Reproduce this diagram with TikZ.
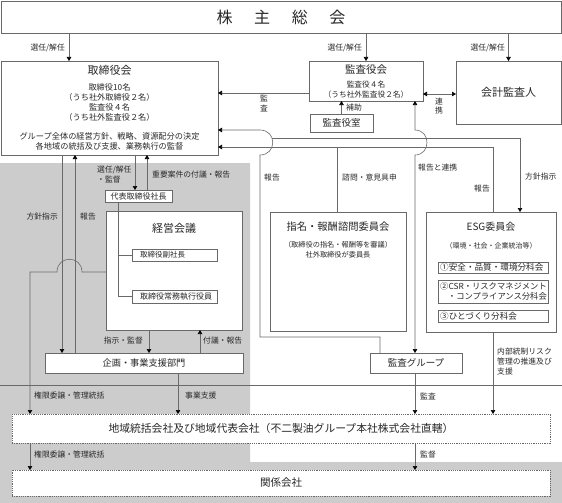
\documentclass[tikz,border=0pt]{standalone}
\usepackage{fontspec}
\setmainfont{Noto Sans CJK JP}
\usetikzlibrary{arrows.meta}
\definecolor{linec}{RGB}{105,105,105}
\definecolor{bgg}{RGB}{204,204,204}
\definecolor{txtc}{RGB}{40,40,40}
\begin{document}
\begin{tikzpicture}[x=1pt,y=-1pt,
  box/.style={draw=linec,fill=white,line width=0.6pt,inner sep=0pt,outer sep=0pt,text=txtc},
  dbox/.style={box,dash pattern=on 1.2pt off 1pt},
  ln/.style={draw=linec,line width=0.6pt},
  arr/.style={ln,-{Triangle[length=4pt,width=4.5pt,color=black]}},
  arrb/.style={ln,{Triangle[length=4pt,width=4.5pt,color=black]}-{Triangle[length=4pt,width=4.5pt,color=black]}},
  lbl/.style={font=\fontsize{7.8}{9.5}\selectfont,text=txtc,inner sep=0pt},
  ttl/.style={font=\fontsize{11}{13}\selectfont,text=txtc,inner sep=0pt},
  sm/.style={font=\fontsize{8}{10}\selectfont,text=txtc,inner sep=0pt,align=center}]
\useasboundingbox (0,0) rectangle (562,503);
% background
\fill[white] (0,0) rectangle (562,503);
\fill[bgg] (0,163) -- (250,163) -- (250,462) -- (562,462) -- (562,503) -- (0,503) -- cycle;
\draw[ln] (0,385) -- (562,385);

% boxes
\node[box,minimum width=560pt,minimum height=32pt,font=\fontsize{16}{18}\selectfont] (kabu) at (281,17) {株\hspace{1.35em}主\hspace{1.35em}総\hspace{1.35em}会};
\node[box,minimum width=217pt,minimum height=94pt] (tori) at (109.5,108) {};
\node[ttl] (toriT) at (109.5,70) {取締役会};
\node[sm,font=\fontsize{8.2}{10}\selectfont] (toriA) at (109.5,102) {取締役10名\\（うち社外取締役２名）\\監査役４名\\（うち社外監査役２名）};
\node[sm,font=\fontsize{8.2}{9.5}\selectfont] (toriB) at (109.5,141.5) {グループ全体の経営方針、戦略、資源配分の決定\\各地域の統括及び支援、業務執行の監督};

\node[box,minimum width=114pt,minimum height=40pt] (kansa) at (366,81) {};
\node[ttl,font=\fontsize{10.5}{12}\selectfont] (kansaT) at (366,70) {監査役会};
\node[sm,font=\fontsize{7.7}{10}\selectfont] (kansaA) at (366,90) {監査役４名\\（うち社外監査役２名）};

\node[box,minimum width=105pt,minimum height=63pt,font=\fontsize{11}{13}\selectfont] (kaikei) at (508.5,92.5) {会計監査人};
\node[box,minimum width=63pt,minimum height=18pt,font=\fontsize{9.5}{11}\selectfont] (shitsu) at (341.5,123) {監査役室};

\node[box,minimum width=67pt,minimum height=12pt,font=\fontsize{8}{9}\selectfont] (daihyo) at (138.5,196) {代表取締役社長};
\node[box,minimum width=136pt,minimum height=119pt] (keiei) at (174,270.5) {};
\node[ttl] (keieiT) at (174,228) {経営会議};
\node[box,minimum width=85pt,minimum height=12pt] (fuku) at (174.5,255) {};
\node[sm,anchor=west,font=\fontsize{7.5}{9}\selectfont] (fukuT) at (140,255) {取締役副社長};
\node[box,minimum width=85pt,minimum height=13pt] (jomu) at (174.5,296.5) {};
\node[sm,anchor=west,font=\fontsize{8}{9}\selectfont] (jomuT) at (140,296.5) {取締役常務執行役員};
\node[box,minimum width=198pt,minimum height=20pt,font=\fontsize{9.2}{11}\selectfont] (kikaku) at (144,363) {企画・事業支援部門};

\node[box,minimum width=136pt,minimum height=119pt] (shimei) at (338,271.5) {};
\node[ttl,font=\fontsize{10.3}{12}\selectfont] (shimeiT) at (338,227) {指名・報酬諮問委員会};
\node[sm,font=\fontsize{7.2}{10}\selectfont] (shimeiA) at (338,250) {（取締役の指名・報酬等を審議）\\社外取締役が委員長};

\node[box,minimum width=130pt,minimum height=120pt] (esg) at (491,272) {};
\node[ttl,font=\fontsize{10}{12}\selectfont] (esgT) at (491,227) {ESG委員会};
\node[sm,font=\fontsize{7}{9}\selectfont] (esgA) at (491,246) {（環境・社会・企業統治等）};
\node[box,minimum width=110pt,minimum height=11pt] (s1) at (493,267.5) {};
\node[sm,anchor=west,font=\fontsize{8.6}{10}\selectfont] (s1T) at (440,267.5) {①安全・品質・環境分科会};
\node[box,minimum width=110pt,minimum height=23pt] (s2) at (493,291.5) {};
\node[sm,anchor=east,align=right,font=\fontsize{8.3}{10.5}\selectfont] (s2T) at (547,291.5) {②CSR・リスクマネジメント\\・コンプライアンス分科会};
\node[box,minimum width=110pt,minimum height=12pt] (s3) at (493,316) {};
\node[sm,anchor=west,font=\fontsize{8.6}{10}\selectfont] (s3T) at (440,316) {③ひとづくり分科会};

\node[box,minimum width=92pt,minimum height=20pt,font=\fontsize{9.5}{11}\selectfont] (kgroup) at (416,363) {監査グループ};

\node[dbox,minimum width=538pt,minimum height=29pt,font=\fontsize{10.8}{12}\selectfont] (chiiki) at (281,428.5) {地域統括会社及び地域代表会社（不二製油グループ本社株式会社直轄）};
\node[dbox,minimum width=538pt,minimum height=26pt,font=\fontsize{10.5}{12}\selectfont] (kankei) at (281,483) {関係会社};

% connectors: top
\draw[arr] (kabu.south -| 69,0) -- (tori.north -| 69,0);
\draw[arr] (kabu.south -| kansa.north) -- (kansa.north);
\draw[arr] (kabu.south -| kaikei.north) -- (kaikei.north);
\node[lbl,anchor=east] (l1) at (65,48) {選任/解任};
\node[lbl,anchor=east] (l2) at (362,48) {選任/解任};
\node[lbl,anchor=east] (l3) at (505,48) {選任/解任};

\draw[arr] (kansa.west |- 0,93) -- (tori.east |- 0,93);
\node[lbl,align=center,font=\fontsize{7.8}{10.5}\selectfont] (l4) at (264,103.5) {監\\査};
\draw[arrb] (kansa.east |- 0,94) -- (kaikei.west |- 0,94);
\node[lbl,align=center,font=\fontsize{7.8}{8.5}\selectfont] (l5) at (439,106) {連\\携};
\draw[arr] (shitsu.north) -- (kansa.south -| shitsu.north);
\node[lbl,anchor=west] (l6) at (346,108) {補助};

% report line from audit group to board (with hop)
\draw[arr] (kgroup.north -| 380,0) -- (380,337) -- (260,337) -- (260,155) .. controls (277,155) and (277,130) .. (260,130) -- (tori.east |- 0,130);
\node[lbl,anchor=west] (l7) at (264,178) {報告};
% policy line to ESG
\coordinate (hopP) at (272,138);
\draw[arr] (hopP) -- (520,138) -- (esg.north -| 520,0);
\node[lbl,anchor=west] (l8) at (525,177) {方針指示};
% report from ESG and consultation line
\draw[arr] (esg.north -| 493,0) -- (493,147) -- (tori.east |- 0,147);
\draw[ln] (shimei.north -| 337,0) -- (337,147);
\node[lbl,anchor=east] (l9) at (490,189) {報告};
\node[lbl,anchor=west] (l10) at (342,178) {諮問・意見具申};
% audit group <-> audit board
\draw[arrb] (kgroup.north -| 415,0) -- (415,155) .. controls (431,155) and (431,130) .. (415,130) -- (kansa.south -| 415,0);
\node[lbl,anchor=west] (l11) at (418,168) {報告と連携};

% left side
\draw[arr] (tori.south -| 62,0) -- (kikaku.north -| 62,0);
\draw[arr] (kikaku.north -| 75,0) -- (tori.south -| 75,0);
\node[lbl,anchor=east] (l12) at (58,217) {方針指示};
\node[lbl,anchor=west] (l13) at (80,217) {報告};
\draw[arr] (tori.south -| 135,0) -- (daihyo.north -| 135,0);
\draw[arr] (daihyo.north -| 147,0) -- (tori.south -| 147,0);
\node[lbl,anchor=west,align=left] (l14) at (97,174.5) {選任/解任\\・監督};
\node[lbl,anchor=west] (l15) at (152,175) {重要案件の付議・報告};
\draw[ln] (daihyo.south -| 118,0) |- (fuku.west);
\draw[ln] (daihyo.south -| 118,0) |- (jomu.west);

\draw[arr] (keiei.south -| 149,0) -- (kikaku.north -| 149,0);
\draw[arr] (kikaku.north -| 200,0) -- (keiei.south -| 200,0);
\node[lbl,anchor=east] (l16) at (143,341) {指示・監督};
\node[lbl,anchor=west] (l17) at (203,341) {付議・報告};

\draw[arr] (keiei.west |- 0,272) -- (82,272) .. controls (82,255) and (57,255) .. (57,272) -- (30,272) -- (chiiki.north -| 30,0);
\node[lbl,anchor=west] (l18) at (34,396) {権限委譲・管理統括};
\draw[arr] (kikaku.south -| 178,0) -- (chiiki.north -| 178,0);
\node[lbl,anchor=west] (l19) at (185,396) {事業支援};

% right bottom
\draw[arr] (kgroup.south -| 415,0) -- (chiiki.north -| 415,0);
\node[lbl,anchor=west] (l20) at (420,396) {監査};
\draw[arr] (esg.south -| 493,0) -- (chiiki.north -| 493,0);
\node[lbl,anchor=west,align=left,font=\fontsize{7.8}{10}\selectfont] (l21) at (497,362) {内部統制リスク\\管理の推進及び\\支援};

% bottom
\draw[arr] (chiiki.south -| 30,0) -- (kankei.north -| 30,0);
\node[lbl,anchor=west] (l22) at (34,455) {権限委譲・管理統括};
\draw[arr] (chiiki.south -| 415,0) -- (kankei.north -| 415,0);
\node[lbl,anchor=west] (l23) at (420,455) {監督};
\end{tikzpicture}
\end{document}
